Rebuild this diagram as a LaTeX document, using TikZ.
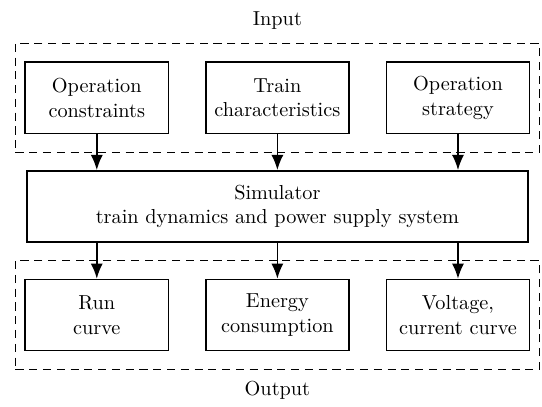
\documentclass[tikz,border=0pt]{standalone}
\usepackage{tikz}
\usetikzlibrary{arrows.meta,calc,fit,positioning}

\begin{document}
\begin{tikzpicture}[>={Latex[length=7.5pt,width=6pt]},font=\normalsize,node distance=17.7pt and 17.6pt,
    every node/.style={align=center},
    blk/.style={draw,thick,minimum width=70.7pt,minimum height=35.1pt,inner sep=2pt},
    grp/.style={draw,semithick,dash pattern=on 4pt off 2.8pt,inner xsep=4.4pt,inner ysep=9pt}]
    % input blocks
    \node[blk] (con) {Operation\\constraints};
    \node[blk,right=of con] (trn) {Train\\characteristics};
    \node[blk,right=of trn] (str) {Operation\\strategy};
    % simulator
    \node[blk,below=of trn,minimum width=247.3pt] (sim) {Simulator\\train dynamics and power supply system};
    % output blocks
    \node[blk,below=of sim] (eng) {Energy\\consumption};
    \node[blk,left=of eng] (run) {Run\\curve};
    \node[blk,right=of eng] (vol) {Voltage,\\current curve};
    % groups
    \node[grp,fit=(con)(str)] (ifit) {};
    \node[grp,fit=(run)(vol)] (ofit) {};
    \node[above=3pt of ifit] (inl) {Input};
    \node[below=2pt of ofit] (outl) {Output};
    \draw[->,thick] (con)--(con|-sim.north);
    \draw[->,thick] (trn)--(sim);
    \draw[->,thick] (str)--(str|-sim.north);
    \draw[->,thick] (run|-sim.south)--(run);
    \draw[->,thick] (sim)--(eng);
    \draw[->,thick] (vol|-sim.south)--(vol);
    \useasboundingbox ($(ifit.north west)+(-7.3pt,21pt)$) rectangle ($(ofit.south east)+(1pt,-16.1pt)$);
\end{tikzpicture}
\end{document}
